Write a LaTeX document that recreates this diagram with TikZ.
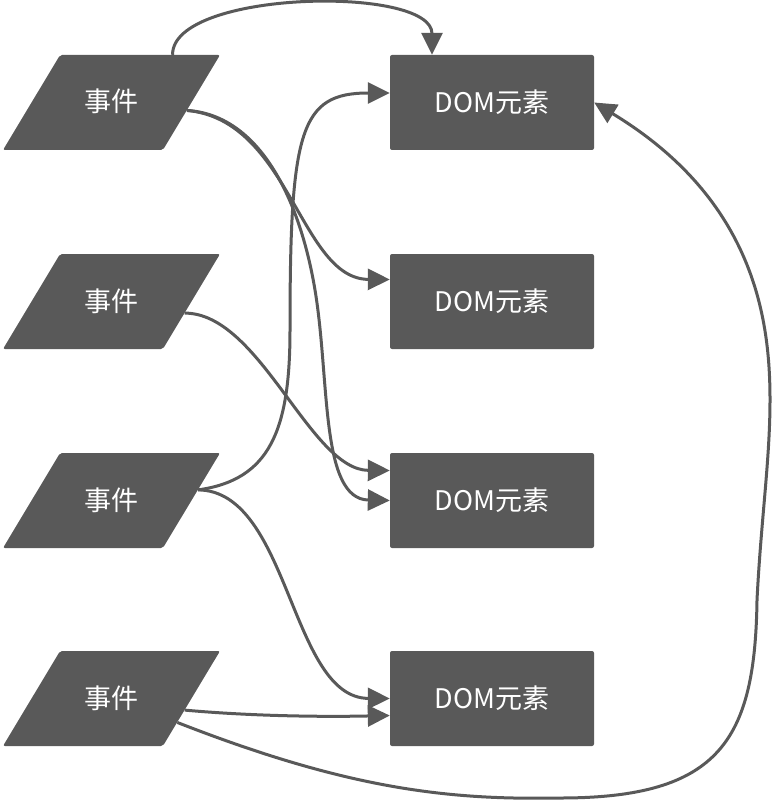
\documentclass[tikz,border=0pt]{standalone}
\usepackage{fontspec}
\newfontfamily\cjk{Noto Sans CJK SC}
\usetikzlibrary{shapes.geometric,arrows.meta}
\definecolor{boxgray}{HTML}{595959}

\begin{document}
\begin{tikzpicture}[x=1pt,y=-1pt,
	event/.style={trapezium, trapezium left angle=59, trapezium right angle=121,
		trapezium stretches body, fill=boxgray, minimum width=217pt, minimum height=95pt,
		text height=23pt, text depth=4pt, inner xsep=0pt, inner ysep=34pt,
		rounded corners=2pt, text=white, font=\cjk\fontsize{27}{32}\selectfont},
	dom/.style={rectangle, fill=boxgray, minimum width=204pt, minimum height=95pt,
		inner sep=0pt, rounded corners=2pt, text=white, font=\cjk\fontsize{27}{32}\selectfont},
	link/.style={draw=boxgray, line width=3pt, -{Triangle[length=22pt,width=21pt]}}]
	\useasboundingbox (0,0) rectangle (774,802);
	\foreach \i/\y in {1/102.5,2/301.5,3/500.5,4/698.5} {
		\node[event] (e\i) at (111.5,\y) {事件};
		\node[dom] (d\i) at (492,\y) {DOM元素};
	}
	\draw[link] (e1.38) .. controls (172,-10) and (432,-15) .. ([xshift=-60pt]d1.north);
	\draw[link] (e1.-6) .. controls (290,120) and (300,279) .. ([yshift=22pt]d2.west);
	\draw[link] (e1.-6) .. controls (260,115) and (300,200) .. (315,290)
		.. controls (330,380) and (320,499) .. (d3.west);
	\draw[link] (e2.-9) .. controls (260,313) and (310,470) .. ([yshift=30pt]d3.west);
	\draw[link] (e3.7) .. controls (270,480) and (290,430) .. (290,330)
		.. controls (290,130) and (300,93) .. ([yshift=9.5pt]d1.west);
	\draw[link] (e3.7) .. controls (290,491) and (290,698) .. (d4.west);
	\draw[link] (e4.-9) .. controls (250,716) and (320,717) .. ([yshift=-17pt]d4.west);
	\draw[link] (e4.-20) .. controls (350,790) and (450,800) .. (560,798)
		.. controls (720,798) and (755,740) .. (757,600)
		.. controls (761,520) and (770,460) .. (770,400)
		.. controls (770,320) and (755,200) .. (d1.east);
\end{tikzpicture}
\end{document}
